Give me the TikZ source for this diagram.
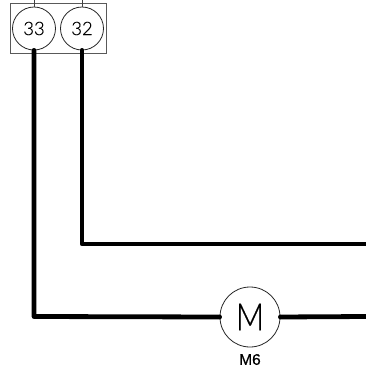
\documentclass[tikz,border=0pt]{standalone}
\usepackage{fontspec}
\setmainfont{Liberation Sans}
\newfontfamily\thinfont[FakeBold=0.5]{Lato Light}
\newfontfamily\tagfont[FakeBold=0.6]{Liberation Sans}
\tikzset{
  px/.style={x=1bp,y=-1bp},
  thinline/.style={draw=black!75,line width=0.8bp},
  wire/.style={draw=black,line width=4.8bp,line cap=round,line join=round},
  terminal/.style={circle,draw=black!85,line width=0.8bp,minimum size=43bp,inner sep=0pt,font=\thinfont\fontsize{18.5}{18.5}\selectfont},
  motor/.style={circle,draw=black!85,line width=0.8bp,minimum size=60bp,inner sep=0pt},
  tag/.style={inner sep=0pt,font=\tagfont\fontsize{15.5}{15.5}\selectfont}
}
\begin{document}
\begin{tikzpicture}[px]
\useasboundingbox[fill=white] (0,0) rectangle (366,372);
\draw[draw=black!65,line width=0.8bp] (10,3.5) rectangle (106,53);
\node[terminal] (t33) at (34,28.5) {33};
\node[terminal] (t32) at (82,28.5) {32};
\coordinate (s33) at (34,0);
\coordinate (s32) at (82,0);
\draw[thinline] (s33) -- (t33.north);
\draw[thinline] (s32) -- (t32.north);
\node[motor] (m) at (250,317) {\thinfont\fontsize{38}{38}\selectfont\scalebox{0.82}[1]{M}};
\node[tag] (m6) at (250,359.5) {M6};
\coordinate (c33) at (34,316.5);
\coordinate (c32) at (82,244);
\coordinate (e32) at (366,244);
\coordinate (e33) at (366,316.5);
\draw[wire] (t33.south) -- (c33) -- (m.west);
\draw[wire] (t32.south) -- (c32) -- (e32);
\draw[wire] (m.east) -- (e33);
\end{tikzpicture}
\end{document}
